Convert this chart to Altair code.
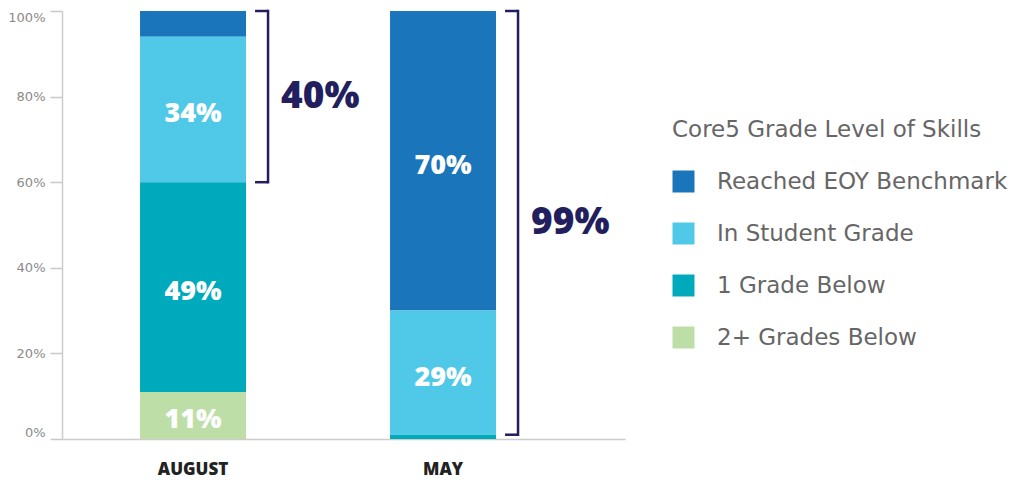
import altair as alt
import pandas as pd

months = ["AUGUST", "MAY"]
categories = ["Reached EOY Benchmark", "In Student Grade", "1 Grade Below", "2+ Grades Below"]
colors = ["#1b75bb", "#50c8e8", "#00aabd", "#bddea7"]
stack_rank = [3, 2, 1, 0]
august = [6, 34, 49, 11]
may = [70, 29, 1, 0]
bracket_lo = [60, 1]
bracket_hi = [100, 100]
bracket_text = ["40%", "99%"]
y_ticks = [0, 20, 40, 60, 80, 100]

rows = []
for m, vals in zip(months, [august, may]):
    for c, r, v in zip(categories, stack_rank, vals):
        rows.append({"month": m, "cat": c, "rank": r, "value": v,
                     "label": f"{v}%" if v >= 10 else ""})
df = pd.DataFrame(rows)

bdf = pd.DataFrame({"month": months, "lo": bracket_lo, "hi": bracket_hi, "text": bracket_text})

FONT = "Open Sans"
LFONT = "DejaVu Sans"
NAVY = "#231f5e"

xscale = alt.Scale(domain=months, paddingInner=0.576, paddingOuter=0.414, align=0.377)
yscale = alt.Scale(domain=[0, 100], nice=False)

x_axis = alt.Axis(title=None, ticks=False, labelAngle=0, labelFont=FONT, labelFontSize=17,
                  labelFontWeight=800, labelColor="#222222", labelPadding=22,
                  domainColor="#cccccc", domainWidth=1.5)
y_axis = alt.Axis(title=None, values=y_ticks, labelExpr="datum.value + '%'", grid=False,
                  labelFont=LFONT, labelFontSize=13, labelColor="#8a8a8a", labelPadding=5,
                  tickSize=12, tickColor="#c8c8c8", tickWidth=1.5, domainColor="#cccccc",
                  domainWidth=1.5, labelFlush=True)

X = alt.X("month:N", scale=xscale, axis=x_axis)


def Y(field):
    return alt.Y(field, scale=yscale, axis=y_axis)


base = alt.Chart(df).transform_stack(
    stack="value", groupby=["month"],
    sort=[alt.SortField("rank", order="ascending")], as_=["y0", "y1"]
).transform_calculate(mid="(datum.y0 + datum.y1) / 2")

bars = base.mark_bar().encode(
    x=X,
    y=Y("y0:Q"),
    y2="y1:Q",
    color=alt.Color("cat:N", scale=alt.Scale(domain=categories, range=colors),
                    legend=alt.Legend(title="Core5 Grade Level of Skills")),
)

labels = base.mark_text(color="white", font=FONT, fontSize=27, fontWeight=800,
                        baseline="middle", dy=5).encode(
    x=X, y=Y("mid:Q"), text="label:N")

bchart = alt.Chart(bdf)
vert = bchart.mark_rule(xOffset=75, strokeWidth=2.5, color=NAVY, strokeCap="square").encode(
    x=X, y=Y("lo:Q"), y2="hi:Q")
top_tick = bchart.mark_rule(xOffset=62, x2Offset=75, strokeWidth=2.5, color=NAVY).encode(
    x=X, x2="month:N", y=Y("hi:Q"))
bot_tick = bchart.mark_rule(xOffset=62, x2Offset=75, strokeWidth=2.5, color=NAVY).encode(
    x=X, x2="month:N", y=Y("lo:Q"))
btext = bchart.transform_calculate(mid="(datum.lo + datum.hi) / 2").mark_text(
    align="left", dx=88, baseline="middle", font=FONT, fontSize=37, fontWeight=800, color=NAVY
).encode(x=X, y=Y("mid:Q"), text="text:N")

chart = alt.layer(bars, labels, vert, top_tick, bot_tick, btext).properties(
    width=563, height=428,
    autosize=alt.AutoSizeParams(type="none"),
    padding={"left": 54, "top": 3, "right": 385, "bottom": 40},
).configure_view(stroke=None).configure_legend(
    orient="none", legendX=610, legendY=108, padding=0,
    titleFont=LFONT, titleFontSize=23, titleColor="#666666", titleFontWeight="normal",
    titlePadding=28, titleLimit=450,
    labelFont=LFONT, labelFontSize=23, labelColor="#666666", labelLimit=450, labelOffset=22,
    symbolType="square", symbolSize=484, symbolStrokeWidth=0, symbolOpacity=1, rowPadding=28,
)

chart.save("out.html", embed_options={"renderer": "svg", "actions": False})
